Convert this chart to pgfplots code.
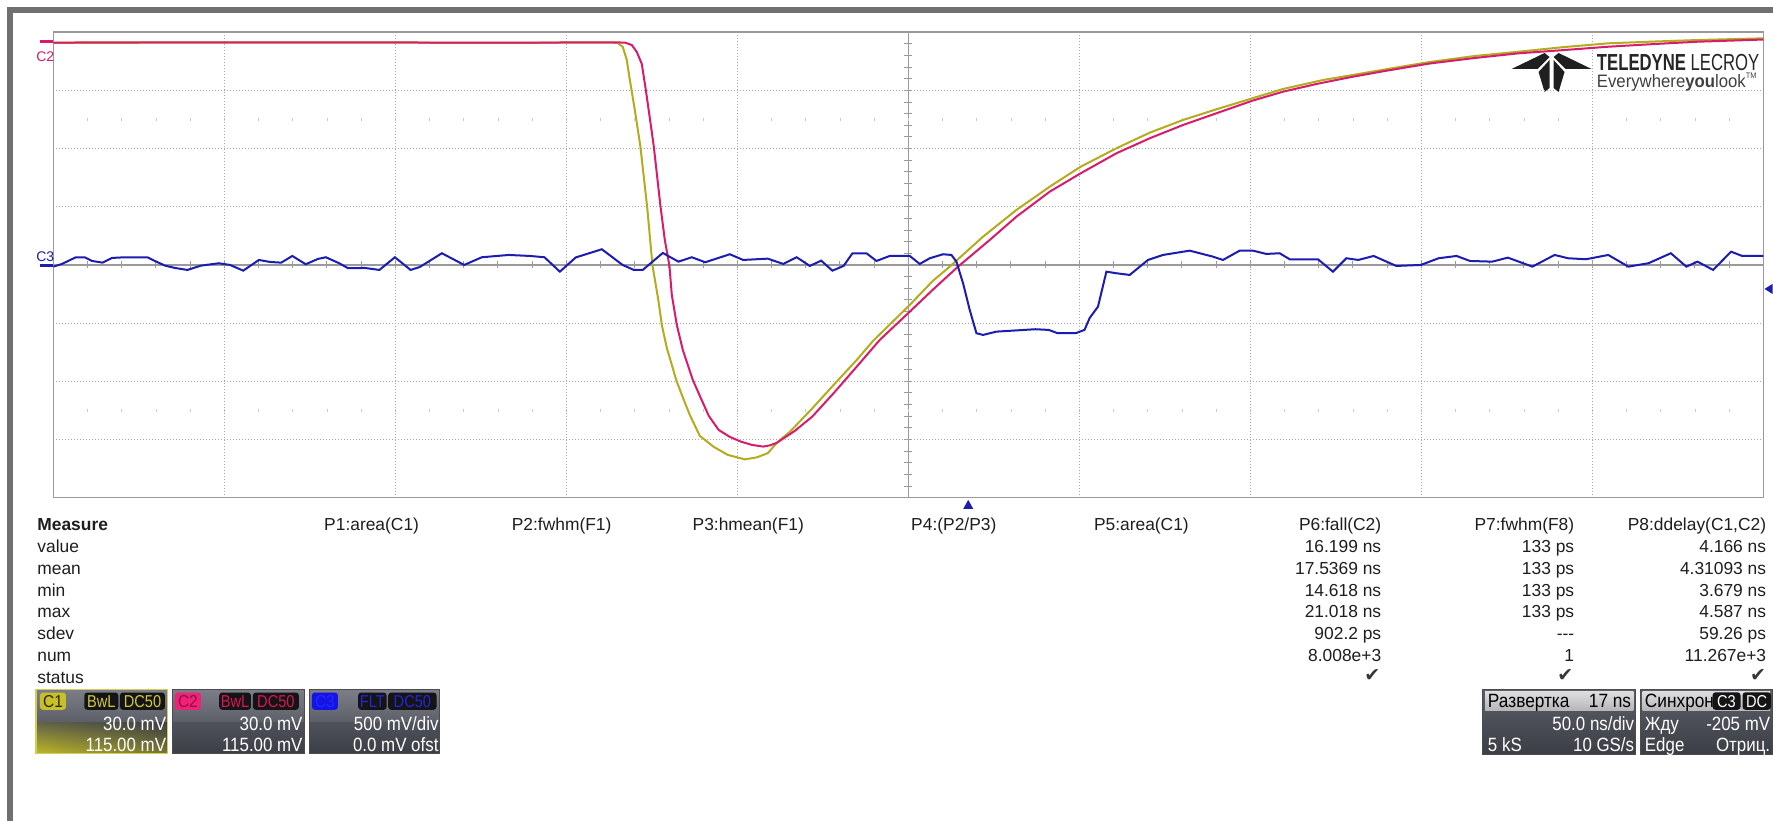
\documentclass[border=0pt]{standalone}
\usepackage{graphicx}
\usepackage{pgfplots}
\pgfplotsset{compat=1.18}
\usepackage{pgfplotstable}
\usetikzlibrary{shadings}
\usepackage{fontspec}
\setmainfont{Liberation Sans}
\newfontfamily\dejavu{DejaVu Sans}

\definecolor{trRed}{HTML}{D81B6A}
\definecolor{trYel}{HTML}{B2AC1E}
\definecolor{trBlu}{HTML}{1C1CB0}
\definecolor{gridc}{HTML}{A8A8A8}
\definecolor{axc}{HTML}{9A9A9A}
\definecolor{framec}{HTML}{707070}
\definecolor{txt}{HTML}{1E1E1E}
\definecolor{boxtop}{HTML}{7C7F88}
\definecolor{boxmid}{HTML}{5C5F68}
\definecolor{boxbot}{HTML}{3C3E46}
\definecolor{tagY}{HTML}{C8C028}
\definecolor{tagYt}{HTML}{D0C838}
\definecolor{tagR}{HTML}{EE2278}
\definecolor{tagRt}{HTML}{D8145A}
\definecolor{tagB}{HTML}{1414E6}
\definecolor{tagBt}{HTML}{2424D8}
\definecolor{lgray}{HTML}{C9C9CD}
\definecolor{glowA}{HTML}{BEB828}
\definecolor{glowB}{HTML}{787632}
\definecolor{glowC}{HTML}{646446}

% C2 trace (pixel readings: x, y from top)
\pgfplotstableread{
px py
53.35 42.5
300 42.3
500 42.6
600 42.4
625 42.5
632 45
637 52
642 64
646 90
650 118
654 146.7
660.7 206.7
665 240
669.6 265.7
672 295
677 325
683 350
693 380
700.9 398
709 416
718.8 430
730 437
741 441.7
752 445
763.4 446.7
770 445.5
776.8 443
795 431
812.5 416.7
835 392
857 366.7
880 340
910 311.7
935 288
958.3 266.7
990 240
1016.7 216.7
1050 191.7
1081 173.3
1116.7 153.3
1150 138.3
1183.3 125
1216.7 113.3
1252.7 100.7
1283.3 91.7
1316.7 84
1350 77.3
1385 71
1430 63.5
1475 58
1519 53.3
1565 50
1608.7 46.7
1655 44
1698 41.7
1764 39.5
}\redtab

% C1 trace
\pgfplotstableread{
px py
53.35 42.8
300 42.6
500 42.8
612 42.6
618 43
623 47
627 60
629.5 76.7
635 110
640.6 146.7
647.3 206.7
652.7 265.7
658.5 300
662 325
667 348
676.7 381
684 400
690 415
700 436
714 447
728 455
745 459.5
757 457.5
767.9 453.3
778 442
790 432
812 409
834.8 384
857 360
873.3 341
910 305
933 281
950 266.7
983.3 236.7
1016.7 210
1050 186.7
1081 166.7
1116.7 148.3
1150 132.7
1183.3 120
1216.7 109.3
1252.7 98.3
1283.3 89
1323.3 80
1350 75.5
1385 69.5
1430 62
1475 56
1519 51.7
1565 47
1608.7 43.3
1655 41.5
1698 40
1764 38.3
}\yeltab

% C3 trace
\pgfplotstableread{
px py
53.35 266.7
62 264
75.9 257.3
84.8 257.3
92 261
102.7 262.7
112 258
125 257.3
147.3 257.3
157 262
165.2 265.7
175 268
187.5 270
200.9 265.7
218.8 263.3
230 265
243.3 270.7
259 260
270 262
281.3 262.7
292.4 256
305.8 264.3
318 259
325.9 257.3
339.3 263.3
348.2 268.3
365 268
379.5 270
395 257.3
410.7 270
420 267
442 253.3
464.3 265
482 257.3
509 255
530 256
544.6 257.3
560 271.7
575.9 257.5
602 249.3
622.8 265
634 270
642.9 270
663 253
678.6 261.7
692 257.3
705.4 262.3
730 254.3
743.3 260
767.9 258.7
783.5 264
796.9 257.3
810 266
821.4 260.7
832.6 270.7
843.8 266
852.7 253.3
866.7 253.3
876.7 261
890 256
910 256
920 264
930 258.3
943.3 254.3
951.7 255
956.7 261.7
963.3 283.3
970 310
976.7 333.3
983.3 335
996.7 331.7
1035.7 329.3
1049 330
1058 333.3
1075.9 333.3
1084.8 330
1090 318
1098.3 306.7
1106.7 271.7
1116.7 273.3
1130 275
1148.3 260
1163.3 255
1190 250.7
1213.3 256.7
1223.3 260
1240 250.7
1253.3 250.7
1266.7 254
1280 253.3
1290 259.3
1318.3 259.3
1333.3 271.7
1346.7 258.3
1358.7 260
1374 256
1396.7 266
1421.2 265
1439 258.3
1457 256
1470.3 261
1492.6 261.7
1508.3 257.7
1532.8 266.7
1555 255
1568.5 258.3
1586.4 259.3
1608.7 255
1628.8 266.7
1648.9 263.3
1671.3 253.3
1686.8 266.7
1698 261.7
1713.6 270
1731.5 251.7
1742.6 256
1764 256
}\blutab

\newcommand\mfnt{\fontsize{8.7}{10}\selectfont}
\newcommand\bfnt{\fontsize{9.6}{11}\selectfont}
\newcommand\tfnt{\fontsize{8.6}{10}\selectfont}

\begin{document}
\begin{tikzpicture}
\begin{scope}[x=0.5pt,y=-0.5pt]
\path[use as bounding box, fill=white] (0,0) rectangle (1773,821);
\fill[framec] (7,7) rectangle (1773,13.3);
\fill[framec] (7,7) rectangle (13.3,821);
% centre cross with fine ticks
\draw[axc, line width=0.7pt] (53.35,265) -- (1763.85,265);
\draw[axc, line width=0.7pt] (908.6,32.2) -- (908.6,497.8);
\foreach \k in {1,...,49} {\draw[axc,line width=0.5pt] ({53.35+\k*34.21},261.5) -- ++(0,7);}
\foreach \k in {1,...,39} {\draw[axc,line width=0.5pt] (904.6,{32.2+\k*11.64}) -- ++(8,0);}
\foreach \k in {1,...,49} {
  \draw[gridc!60,line width=0.35pt] ({53.35+\k*34.21},118) -- ++(0,3);
  \draw[gridc!60,line width=0.35pt] ({53.35+\k*34.21},409) -- ++(0,3);
}
% logo
\fill[black!88] (1512,69) -- (1545,53) -- (1550,57) -- (1538,69) -- cycle;
\fill[black!88] (1592,69) -- (1559,53) -- (1554,57) -- (1566,69) -- cycle;
\fill[black!88] (1539,72) -- (1550,60) -- (1550,88) -- (1545,92) -- cycle;
\fill[black!88] (1565,72) -- (1554,60) -- (1554,88) -- (1559,92) -- cycle;
\node[anchor=base west, inner sep=0, text=black!85] at (1597,70.3)
  {\scalebox{0.72}[1]{\fontsize{11.6}{13}\selectfont\textbf{TELEDYNE} LECROY}};
\node[anchor=base west, inner sep=0, text=black!75] at (1597,87.5)
  {\scalebox{0.93}[1]{\fontsize{9}{11}\selectfont Everywhere\textbf{you}look\raisebox{0.9ex}{\fontsize{4}{4}\selectfont TM}}};
\end{scope}

\begin{axis}[
  at={(26.675pt,-248.9pt)}, anchor=south west,
  width=855.25pt, height=232.8pt, scale only axis,
  xmin=-5, xmax=5, ymin=-4, ymax=4,
  xtick={-4,-3,-2,-1,1,2,3,4}, ytick={-3,-2,-1,1,2,3},
  xticklabels={}, yticklabels={},
  major tick length=0pt,
  grid=major,
  major grid style={gridc, line width=0.5pt, dash pattern=on 0.5pt off 1pt},
  axis line style={axc, line width=0.8pt},
]
\addplot[trYel, line width=1pt] table[x expr={(\thisrow{px}-908.6)/171.05}, y expr={(265-\thisrow{py})/58.2}] {\yeltab};
\addplot[trRed, line width=1pt] table[x expr={(\thisrow{px}-908.6)/171.05}, y expr={(265-\thisrow{py})/58.2}] {\redtab};
\addplot[trBlu, line width=1pt] table[x expr={(\thisrow{px}-908.6)/171.05}, y expr={(265-\thisrow{py})/58.2}] {\blutab};
\end{axis}

\begin{scope}[x=0.5pt,y=-0.5pt]
% channel markers
\draw[trRed, line width=1.2pt] (40,41.5) -- (53,41.5);
\node[anchor=base west, inner sep=0, text=trRed] at (36,61.7) {\fontsize{7}{8}\selectfont C2};
\draw[trBlu, line width=1.5pt] (40,265.5) -- (53,265.5);
\node[anchor=base west, inner sep=0, text=trBlu] at (36,261.7) {\fontsize{7}{8}\selectfont C3};
\fill[trBlu] (963.5,509) -- (973.5,509) -- (968.5,500) -- cycle;
\fill[trBlu] (1765,289) -- (1773,284) -- (1773,294) -- cycle;

% measurement table
\begin{scope}[every node/.style={inner sep=0, text=txt}]
\node[anchor=base west] at (37,530.5) {\mfnt\textbf{Measure}};
\foreach \t [count=\i] in {value,mean,min,max,sdev,num,status}
  \node[anchor=base west] at (37,{530.5+\i*21.9}) {\mfnt \t};
\node[anchor=base east] at (419.5,530.5) {\mfnt P1:area(C1)};
\node[anchor=base east] at (612,530.5) {\mfnt P2:fwhm(F1)};
\node[anchor=base east] at (804.5,530.5) {\mfnt P3:hmean(F1)};
\node[anchor=base east] at (997,530.5) {\mfnt P4:(P2/P3)};
\node[anchor=base east] at (1189.5,530.5) {\mfnt P5:area(C1)};
\node[anchor=base east] at (1382,530.5) {\mfnt P6:fall(C2)};
\node[anchor=base east] at (1575,530.5) {\mfnt P7:fwhm(F8)};
\node[anchor=base east] at (1767,530.5) {\mfnt P8:ddelay(C1,C2)};
\foreach \t [count=\i] in {16.199 ns,17.5369 ns,14.618 ns,21.018 ns,902.2 ps,8.008e+3}
  \node[anchor=base east] at (1382,{530.5+\i*21.9}) {\mfnt \t};
\foreach \t [count=\i] in {133 ps,133 ps,133 ps,133 ps,{-}{-}{-},1}
  \node[anchor=base east] at (1575,{530.5+\i*21.9}) {\mfnt \t};
\foreach \t [count=\i] in {4.166 ns,4.31093 ns,3.679 ns,4.587 ns,59.26 ps,11.267e+3}
  \node[anchor=base east] at (1767,{530.5+\i*21.9}) {\mfnt \t};
\foreach \xx in {1381,1574,1767}
  \node[anchor=base east, text=black!78] at (\xx,682) {\dejavu\fontsize{9.5}{10}\selectfont ✔};
\end{scope}

% channel boxes
\foreach \ox/\w in {0/131.7,136.7/131.6,273.3/130.7} {
  \shade[top color=boxtop, bottom color=boxmid] ({36+\ox},689.3) rectangle ({36+\ox+\w},722.7);
  \shade[top color=boxmid!60!boxbot, bottom color=boxbot] ({36+\ox},722.7) rectangle ({36+\ox+\w},754);
}
\shade[lower left=glowA, lower right=glowB, upper left=glowC, upper right=boxbot] (36,722.7) rectangle (167.7,754);
\draw[tagY!80, line width=0.6pt] (36,689.3) rectangle (167.7,754);
\draw[black!70, line width=0.5pt] (172.7,689.3) rectangle (304.3,754);
\draw[black!70, line width=0.5pt] (309.3,689.3) rectangle (440,754);
% tags
\fill[tagY, rounded corners=1.5pt] (40,692.7) rectangle (66,710);
\fill[tagR, rounded corners=1.5pt] (175,692.7) rectangle (201,710);
\fill[tagB, rounded corners=1.5pt] (312,692.7) rectangle (338,710);
\foreach \a/\b in {84.3/118.3,120/165,219.3/251,253/299,358.3/386.7,388.3/436.7}
  \fill[black!92, rounded corners=1.5pt] (\a,692.7) rectangle (\b,710);
\begin{scope}[every node/.style={inner sep=0}]
\node[text=black!80!tagY] at (53,702) {\scalebox{0.9}[1]{\tfnt C1}};
\node[text=tagRt!70!black] at (188,702) {\scalebox{0.9}[1]{\tfnt C2}};
\node[text=blue!85] at (325,702) {\scalebox{0.9}[1]{\tfnt C3}};
\node[text=tagYt] at (101.3,702) {\scalebox{0.85}[1]{\tfnt BwL}};
\node[text=tagYt] at (142.5,702) {\scalebox{0.85}[1]{\tfnt DC50}};
\node[text=tagRt] at (235.2,702) {\scalebox{0.85}[1]{\tfnt BwL}};
\node[text=tagRt] at (276,702) {\scalebox{0.85}[1]{\tfnt DC50}};
\node[text=tagBt] at (372.5,702) {\scalebox{0.85}[1]{\tfnt FLT}};
\node[text=tagBt] at (412.5,702) {\scalebox{0.85}[1]{\tfnt DC50}};
\node[anchor=base east, text=white] at (166.5,731) {\scalebox{0.88}[1]{\bfnt 30.0 mV}};
\node[anchor=base east, text=white] at (166.5,752) {\scalebox{0.88}[1]{\bfnt 115.00 mV}};
\node[anchor=base east, text=white] at (303,731) {\scalebox{0.88}[1]{\bfnt 30.0 mV}};
\node[anchor=base east, text=white] at (303,752) {\scalebox{0.88}[1]{\bfnt 115.00 mV}};
\node[anchor=base east, text=white] at (439,731) {\scalebox{0.88}[1]{\bfnt 500 mV/div}};
\node[anchor=base east, text=white] at (439,752) {\scalebox{0.88}[1]{\bfnt 0.0 mV ofst}};
\end{scope}

% timebase and trigger boxes
\foreach \a/\b in {1483.3/1636,1640.7/1773} {
  \shade[top color=boxmid, bottom color=boxbot] (\a,689.3) rectangle (\b,755);
  \draw[black!70, line width=0.5pt] (\a,689.3) rectangle (\b,755);
  \shade[top color=lgray!60!white, bottom color=lgray!90!black] ({\a+2.3},691.5) rectangle ({\b-2.3},711);
}
\fill[black!92, rounded corners=1.5pt] (1713,692.5) rectangle (1741,710);
\fill[black!92, rounded corners=1.5pt] (1743,692.5) rectangle (1771.5,710);
\begin{scope}[every node/.style={inner sep=0}]
\node[anchor=base west, text=black] at (1488,708) {\scalebox{0.9}[1]{\bfnt Развертка}};
\node[anchor=base east, text=black] at (1632,708) {\scalebox{0.9}[1]{\bfnt 17 ns}};
\node[anchor=base east, text=white] at (1635,731) {\scalebox{0.88}[1]{\bfnt 50.0 ns/div}};
\node[anchor=base west, text=white] at (1488,752) {\scalebox{0.88}[1]{\bfnt 5 kS}};
\node[anchor=base east, text=white] at (1635,752) {\scalebox{0.88}[1]{\bfnt 10 GS/s}};
\node[anchor=base west, text=black] at (1645,708) {\scalebox{0.9}[1]{\bfnt Синхрон}};
\node[text=white!80] at (1727,701.5) {\scalebox{0.85}[1]{\tfnt C3}};
\node[text=white!80] at (1757.2,701.5) {\scalebox{0.85}[1]{\tfnt DC}};
\node[anchor=base west, text=white] at (1645,731) {\scalebox{0.88}[1]{\bfnt Жду}};
\node[anchor=base east, text=white] at (1771,731) {\scalebox{0.88}[1]{\bfnt -205 mV}};
\node[anchor=base west, text=white] at (1645,752) {\scalebox{0.88}[1]{\bfnt Edge}};
\node[anchor=base east, text=white] at (1771,752) {\scalebox{0.88}[1]{\bfnt Отриц.}};
\end{scope}
\end{scope}
\end{tikzpicture}
\end{document}
